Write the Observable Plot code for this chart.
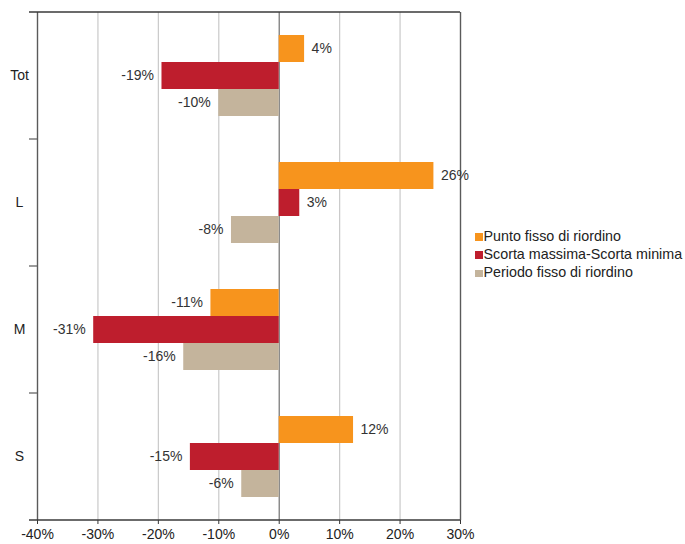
<!DOCTYPE html>
<html><head><meta charset="utf-8">
<script src="https://cdn.jsdelivr.net/npm/d3@7"></script>
<script src="https://cdn.jsdelivr.net/npm/@observablehq/plot@0.6"></script>
<style>
body{margin:0;background:#fff;font-family:"Liberation Sans",Arial,sans-serif;}
#wrap{position:relative;width:685px;height:544px;overflow:hidden;}
#legend{position:absolute;left:475px;top:226.5px;font-size:14.3px;color:#222;line-height:18.3px;white-space:nowrap;}
.sw{display:inline-block;width:7.5px;height:7.5px;margin-right:1px;vertical-align:0px;}
</style></head><body>
<div id="wrap"><div id="chart"></div><div id="legend"></div></div>
<script>
const categories = ["Tot", "L", "M", "S"];
const series = ["Punto fisso di riordino", "Scorta massima-Scorta minima", "Periodo fisso di riordino"];
const puntoFisso = [4.2, 25.6, -11.3, 12.3];
const scortaMassima = [-19.4, 3.4, -30.7, -14.7];
const periodoFisso = [-10.0, -7.9, -15.8, -6.2];
const puntoFissoLabels = ["4%", "26%", "-11%", "12%"];
const scortaMassimaLabels = ["-19%", "3%", "-31%", "-15%"];
const periodoFissoLabels = ["-10%", "-8%", "-16%", "-6%"];
const colors = ["#F7941D", "#BE1E2D", "#C4B49C"];
const xTicks = [-40, -30, -20, -10, 0, 10, 20, 30];
const gridTicks = [-30, -20, -10, 10, 20];

const valuesBySeries = [puntoFisso, scortaMassima, periodoFisso];
const labelsBySeries = [puntoFissoLabels, scortaMassimaLabels, periodoFissoLabels];
const rows = [];
categories.forEach((c, i) => series.forEach((s, j) => rows.push({category: c, series: s, value: valuesBySeries[j][i], label: labelsBySeries[j][i]})));

const plot = Plot.plot({
  width: 685, height: 544,
  marginLeft: 37, marginRight: 225, marginTop: 11, marginBottom: 23,
  style: {fontFamily: "'Liberation Sans', Arial, sans-serif", fontSize: "14px", color: "#222", background: "#fff"},
  x: {domain: [-40, 30]},
  y: {domain: series, paddingInner: 0, paddingOuter: 0.8},
  fy: {domain: categories, padding: 0},
  color: {domain: series, range: colors},
  marks: [
    Plot.ruleX(gridTicks, {stroke: "#c9c9c9", strokeWidth: 1.2}),
    Plot.ruleX([0], {stroke: "#707070", strokeWidth: 1.2}),
    Plot.ruleX([-40, 30], {stroke: "#5a5a5a", strokeWidth: 1.4}),
    Plot.barX(rows, {x: "value", y: "series", fy: "category", fill: "series"}),
    Plot.text(rows.filter(d => d.value > 0), {x: "value", y: "series", fy: "category", text: "label", textAnchor: "start", dx: 7, fill: "#333", fontSize: 14}),
    Plot.text(rows.filter(d => d.value < 0), {x: "value", y: "series", fy: "category", text: "label", textAnchor: "end", dx: -8, fill: "#333", fontSize: 14}),
    Plot.axisX({ticks: xTicks, tickFormat: d => d + "%", tickSize: 4, tickPadding: 5, stroke: "#333", fill: "#222", fontSize: 14, label: null}),
    Plot.axisY({ticks: [], label: null}),
    Plot.axisFy({anchor: "left", tickSize: 0, tickPadding: 0, textAnchor: "middle", dx: -18, fill: "#222", fontSize: 14, label: null})
  ]
});

const svg = d3.select(plot);
const xs = plot.scale("x"), fy = plot.scale("fy");
const xl = xs.apply(-40), xr = xs.apply(30);
const yt = fy.apply(categories[0]);
const yb = fy.apply(categories[categories.length - 1]) + fy.bandwidth;
const g = svg.append("g").attr("stroke", "#3a3a3a").attr("stroke-width", 1.3);
g.append("line").attr("x1", xl - 8).attr("x2", xr).attr("y1", yt).attr("y2", yt);
g.append("line").attr("x1", xl - 8).attr("x2", xr).attr("y1", yb).attr("y2", yb);
categories.slice(1).forEach(c => {
  const y = fy.apply(c);
  g.append("line").attr("x1", xl - 8).attr("x2", xl).attr("y1", y).attr("y2", y).attr("stroke", "#666");
});
document.getElementById("chart").appendChild(plot);

const legend = d3.select("#legend");
series.forEach((s, j) => {
  const row = legend.append("div");
  row.append("span").attr("class", "sw").style("background", colors[j]);
  row.append("span").text(s);
});
</script>
</body></html>
